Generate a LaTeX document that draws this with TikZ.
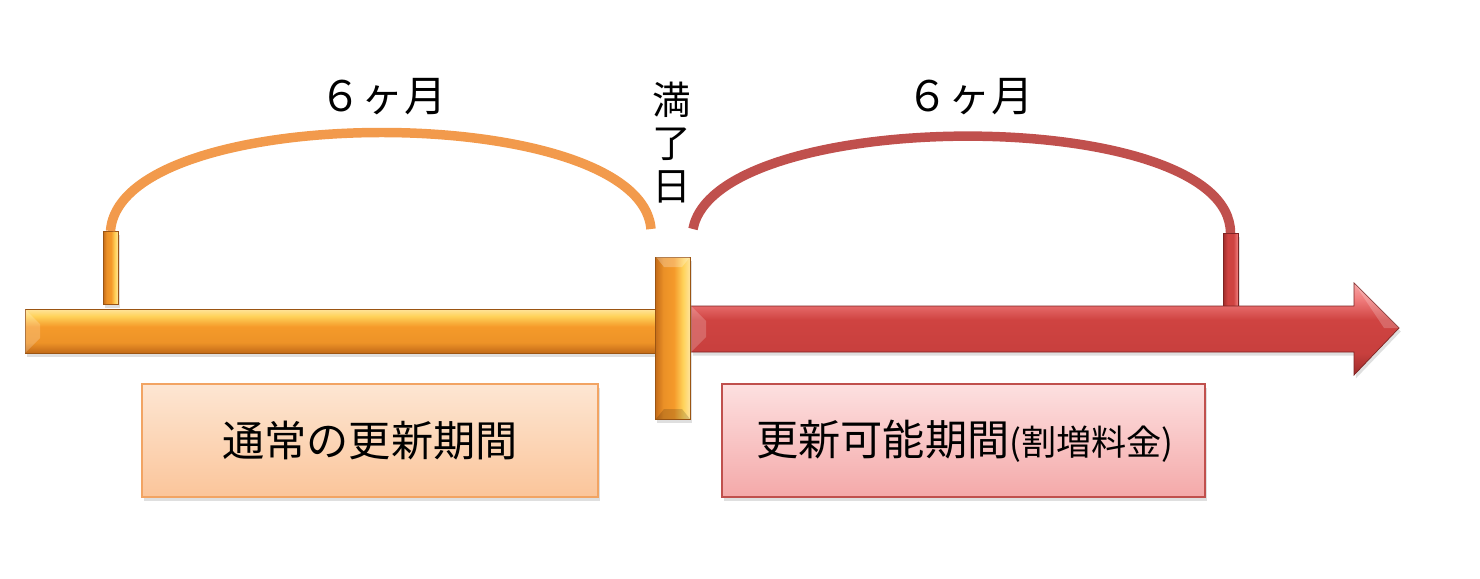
\documentclass[tikz,border=0pt]{standalone}
\usepackage{fontspec}
\setmainfont{Noto Sans CJK JP}
\usetikzlibrary{shadows}
\definecolor{orA}{HTML}{FFD25A}
\definecolor{orB}{HTML}{F59A2A}
\definecolor{orC}{HTML}{C26A18}
\definecolor{rdA}{HTML}{F28080}
\definecolor{rdB}{HTML}{CF4341}
\definecolor{rdC}{HTML}{9E2C2A}
\definecolor{arcO}{HTML}{F29A4C}
\definecolor{arcR}{HTML}{C0504D}
\definecolor{boxOb}{HTML}{F2A463}
\definecolor{boxOt}{HTML}{FDE6D3}
\definecolor{boxOl}{HTML}{FBC59A}
\definecolor{boxRb}{HTML}{C0504D}
\definecolor{boxRt}{HTML}{FDE0E0}
\definecolor{boxRl}{HTML}{F4A9A9}
\pgfdeclareverticalshading{orh}{100bp}{color(0bp)=(orC); color(25bp)=(orC); color(37bp)=(orB!85!orC); color(55bp)=(orB); color(67bp)=(orA); color(75bp)=(orA!60!white); color(100bp)=(orA!60!white)}
\pgfdeclareverticalshading{rdh}{100bp}{color(0bp)=(rdC); color(25bp)=(rdC); color(37bp)=(rdB!85!rdC); color(55bp)=(rdB); color(67bp)=(rdA); color(75bp)=(rdA!70!white); color(100bp)=(rdA!70!white)}
\pgfdeclarehorizontalshading{orv}{100bp}{color(0bp)=(orC); color(25bp)=(orC); color(37bp)=(orB!80!orC); color(52bp)=(orB); color(65bp)=(orA); color(75bp)=(orA!60!white); color(100bp)=(orA!60!white)}
\pgfdeclarehorizontalshading{rdv}{100bp}{color(0bp)=(rdC); color(25bp)=(rdC); color(40bp)=(rdB); color(60bp)=(rdB); color(75bp)=(rdA); color(100bp)=(rdA)}
\tikzset{
  orbarh/.style={shading=orh, draw=orC!80!black, line width=0.4pt},
  orbarv/.style={shading=orv, draw=orC!80!black, line width=0.4pt},
  rdbarh/.style={shading=rdh, draw=rdC!80!black, line width=0.4pt},
  rdbarv/.style={shading=rdv, draw=rdC!80!black, line width=0.4pt},
  arcline/.style={line width=5.4pt, line cap=butt},
  shade1/.style={drop shadow={shadow xshift=1pt, shadow yshift=-2pt, opacity=0.25}},
  lbl/.style={font=\fontsize{24}{28}\selectfont, inner sep=0pt},
  boxlbl/.style={font=\fontsize{24}{28}\selectfont, inner sep=0pt},
}
\begin{document}
\begin{tikzpicture}[x=0.02cm, y=-0.02cm]
\useasboundingbox (0,0) rectangle (1480,578);
% orange tick
\path[orbarv, shade1] (103,231) rectangle (118,304);
\coordinate (oa) at (110.5,231);
% red tick
\path[rdbarv, shade1] (1223,233) rectangle (1238,307);
\coordinate (rb) at (1230.5,233);
% orange bar
\path[orbarh, shade1] (25,309) rectangle (656,353);
% red arrow
\path[rdbarh, shade1] (691,306) -- (1354,306) -- (1354,283) -- (1399,328) -- (1354,375) -- (1354,352) -- (691,352) -- cycle;
% centre bar
\path[orbarv, shade1] (655,257) rectangle (690,419);
% bevel hints
\fill[white, opacity=0.25] (656,257) -- (690,257) -- (682,267) -- (664,267) -- cycle;
\fill[black, opacity=0.15] (656,419) -- (690,419) -- (682,409) -- (664,409) -- cycle;
\fill[white, opacity=0.2] (25,309) -- (40,324) -- (40,338) -- (25,353) -- cycle;
\fill[white, opacity=0.2] (691,306) -- (706,321) -- (706,337) -- (691,352) -- cycle;
\fill[white, opacity=0.2] (1354,283) -- (1384,328) -- (1399,328) -- cycle;
% arcs
\coordinate (oe) at (651,229);
\coordinate (rs) at (693,229);
\draw[arcline, arcO] (oa) .. controls (120,100) and (640,100) .. (oe);
\draw[arcline, arcR] (rs) .. controls (716,105) and (1230,104) .. (rb);
% labels
\node[lbl] (m1) at (383,97) {６ヶ月};
\node[lbl] (m2) at (970,97) {６ヶ月};
\node[lbl, align=center, font=\fontsize{22}{24.5}\selectfont] (mr) at (672,143) {満\\了\\日};
% boxes
\path[draw=boxOb, line width=1.2pt, top color=boxOt, bottom color=boxOl, shade1] (142,384) rectangle (598,497);
\node[boxlbl] (t1) at (370,441) {通常の更新期間};
\path[draw=boxRb, line width=1.2pt, top color=boxRt, bottom color=boxRl, shade1] (722,384) rectangle (1205,497);
\node[boxlbl] (t2) at (965,441) {更新可能期間{\fontsize{20}{24}\selectfont(割増料金)}};
\end{tikzpicture}
\end{document}
